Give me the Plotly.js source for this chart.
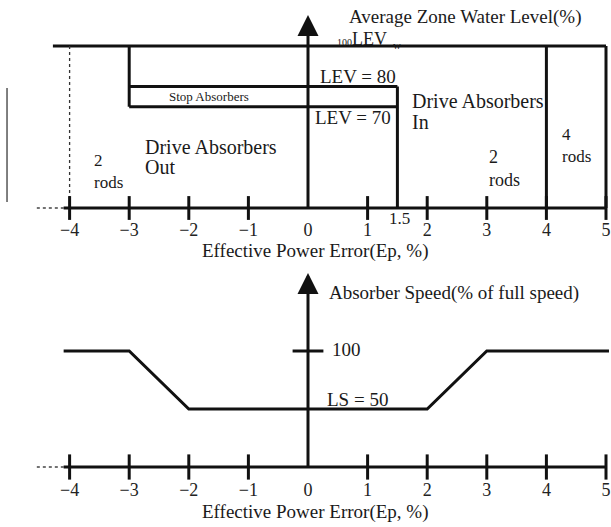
<!DOCTYPE html>
<html>
<head>
<meta charset="utf-8">
<script src="https://cdn.plot.ly/plotly-3.0.1.min.js"></script>
<style>html,body{margin:0;padding:0;background:#fff;}#chart{width:611px;height:527px;}</style>
</head>
<body>
<div id="chart"></div>
<script>
// ---- shared axis data ----
const epTicks = [-4, -3, -2, -1, 0, 1, 2, 3, 4, 5];
const epTickLabels = ['\u22124', '\u22123', '\u22122', '\u22121', '0', '1', '2', '3', '4', '5'];
const epAxisStart = -4.1, epAxisEnd = 5, epDottedStart = -4.55;

// ---- top chart: zone level regions (schematic levels) ----
const levFull = 100, levStop = 80, levDrive = 70, levBase = 20, levArrow = 115.3;
const epStopStart = -3, epDriveIn = 1.5, epTwoRods = -4, epFourRods = 4, epMax = 5, epTopLineStart = -4.28;
const levArtifact = [79.3, 23.0], epArtifact = -5.05;

// ---- bottom chart: absorber speed ----
const speedEp = [-4.1, -3, -2, 2, 3, 5.05];
const speedVal = [100, 100, 50, 50, 100, 100];
const speedBase = 0, speedFull = 100, speedArrow = 167.2;

const BLACK = '#111';
const FONT = 'Liberation Serif, Times New Roman, serif';
const LW = 3;

function seg(xs, ys, axis, opts) {
  opts = opts || {};
  return {
    type: 'scatter', mode: 'lines', x: xs, y: ys,
    xaxis: axis === 2 ? 'x2' : 'x', yaxis: axis === 2 ? 'y2' : 'y',
    line: {color: opts.color || BLACK, width: opts.width || LW, dash: opts.dash || 'solid'},
    hoverinfo: 'skip', cliponaxis: false
  };
}

const traces = [];
// Top chart structure
traces.push(seg([epTopLineStart, epMax], [levFull, levFull], 1));
traces.push(seg([epTwoRods, epTwoRods], [levFull, levBase], 1, {width: 1.3, dash: 'dot', color: '#333'}));
traces.push(seg([epStopStart, epStopStart], [levFull, levDrive], 1));
traces.push(seg([epStopStart, epDriveIn], [levStop, levStop], 1));
traces.push(seg([epStopStart, epDriveIn], [levDrive, levDrive], 1));
traces.push(seg([epDriveIn, epDriveIn], [levStop, levBase], 1));
traces.push(seg([epFourRods, epFourRods], [levFull, levBase], 1));
traces.push(seg([epMax, epMax], [levFull, levBase], 1));
traces.push(seg([epDottedStart, epAxisStart], [levBase, levBase], 1, {width: 1.3, dash: 'dot', color: '#444'}));
traces.push(seg([epAxisStart, epAxisEnd], [levBase, levBase], 1));
traces.push(seg([0, 0], [levBase, levArrow - 3], 1));
traces.push(seg([epArtifact, epArtifact], levArtifact, 1, {width: 1.5, color: '#555'}));
// top ticks
const topTickX = epTicks.filter(v => v !== 0);
traces.push({
  type: 'scatter', mode: 'markers', x: topTickX, y: topTickX.map(() => levBase),
  xaxis: 'x', yaxis: 'y', marker: {symbol: 'line-ns', size: 17, line: {width: 3, color: BLACK}},
  hoverinfo: 'skip', cliponaxis: false
});
// top arrow head
traces.push({
  type: 'scatter', mode: 'markers', x: [0], y: [levArrow], xaxis: 'x', yaxis: 'y',
  marker: {symbol: 'arrow-up', size: 21, color: BLACK, line: {width: 0}}, hoverinfo: 'skip', cliponaxis: false
});
// top tick labels
traces.push({
  type: 'scatter', mode: 'text', x: epTicks, y: epTicks.map(() => 8.6), text: epTickLabels,
  xaxis: 'x', yaxis: 'y', textfont: {family: FONT, size: 18, color: '#222'}, textposition: 'middle center',
  hoverinfo: 'skip', cliponaxis: false
});

// Bottom chart
traces.push(seg(speedEp, speedVal, 2));
traces.push(seg([epDottedStart, epAxisStart], [speedBase, speedBase], 2, {width: 1.3, dash: 'dot', color: '#444'}));
traces.push(seg([epAxisStart, epAxisEnd], [speedBase, speedBase], 2));
traces.push(seg([0, 0], [speedBase, speedArrow - 3], 2));
traces.push({
  type: 'scatter', mode: 'markers', x: topTickX, y: topTickX.map(() => speedBase),
  xaxis: 'x2', yaxis: 'y2', marker: {symbol: 'line-ns', size: 18, line: {width: 3, color: BLACK}},
  hoverinfo: 'skip', cliponaxis: false
});
traces.push({
  type: 'scatter', mode: 'markers', x: [0], y: [speedFull], xaxis: 'x2', yaxis: 'y2',
  marker: {symbol: 'line-ew', size: 22, line: {width: 3, color: BLACK}}, hoverinfo: 'skip', cliponaxis: false
});
traces.push({
  type: 'scatter', mode: 'markers', x: [0], y: [speedArrow], xaxis: 'x2', yaxis: 'y2',
  marker: {symbol: 'arrow-up', size: 21, color: BLACK, line: {width: 0}}, hoverinfo: 'skip', cliponaxis: false
});
traces.push({
  type: 'scatter', mode: 'text', x: epTicks, y: epTicks.map(() => -20.7), text: epTickLabels,
  xaxis: 'x2', yaxis: 'y2', textfont: {family: FONT, size: 18, color: '#222'}, textposition: 'middle center',
  hoverinfo: 'skip', cliponaxis: false
});

function ann(text, x, y, axis, xanchor, size) {
  return {
    text: text, x: x, y: y, xref: axis === 2 ? 'x2' : 'x', yref: axis === 2 ? 'y2' : 'y',
    xanchor: xanchor || 'left', yanchor: 'middle', showarrow: false, align: 'left',
    font: {family: FONT, size: size || 19, color: '#1a1a1a'}
  };
}

const annotations = [
  ann('Average Zone Water Level(%)', 2.65, 114.3, 1, 'center', 19),
  ann('100', 0.45, 101.6, 1, 'left', 10),
  ann('LEV', 0.70, 103.3, 1, 'left', 18),
  ann('w', 1.39, 100.4, 1, 'left', 11),
  ann('LEV = 80', 1.51, 84.9, 1, 'right'),
  ann('LEV = 70', 1.43, 64.9, 1, 'right'),
  ann('Stop Absorbers', -1.66, 75.0, 1, 'center', 13),
  ann('Drive Absorbers', -2.77, 50.1, 1, 'left', 20),
  ann('Out', -2.77, 40.25, 1, 'left', 20),
  ann('Drive Absorbers', 1.71, 72.8, 1, 'left', 20),
  ann('In', 1.71, 62.5, 1, 'left', 20),
  ann('2', -3.62, 43.7, 1, 'left', 17),
  ann('rods', -3.62, 32.8, 1, 'left', 17),
  ann('2', 3.0, 45.2, 1, 'left', 18),
  ann('rods', 3.0, 33.8, 1, 'left', 18),
  ann('4<br>rods', 4.23, 50.8, 1, 'left', 17),
  ann('1.5', 1.53, 14.6, 1, 'center', 17),
  ann('Effective Power Error(Ep, %)', 0.12, -1.2, 1, 'center', 19),
  ann('Absorber Speed(% of full speed)', 0.32, 150, 2, 'left', 19),
  ann('100', 0.37, 100.9, 2, 'left', 19),
  ann('LS = 50', 0.285, 57.8, 2, 'left', 19),
  ann('Effective Power Error(Ep, %)', 0.12, -38.8, 2, 'center', 19)
];

const xr = [-308 / 59.6, 303 / 59.6];
const layout = {
  width: 611, height: 527,
  margin: {l: 0, r: 0, t: 0, b: 0},
  paper_bgcolor: '#fff', plot_bgcolor: '#fff',
  showlegend: false,
  xaxis: {range: xr, visible: false, domain: [0, 1], anchor: 'y', fixedrange: true},
  yaxis: {range: [-6.67, 122.72], visible: false, domain: [265 / 527, 1], anchor: 'x', fixedrange: true},
  xaxis2: {range: xr, visible: false, domain: [0, 1], anchor: 'y2', fixedrange: true},
  yaxis2: {range: [-51.72, 176.72], visible: false, domain: [0, 265 / 527], anchor: 'x2', fixedrange: true},
  annotations: annotations
};

Plotly.newPlot('chart', traces, layout, {displayModeBar: false, staticPlot: true});
</script>
</body>
</html>
